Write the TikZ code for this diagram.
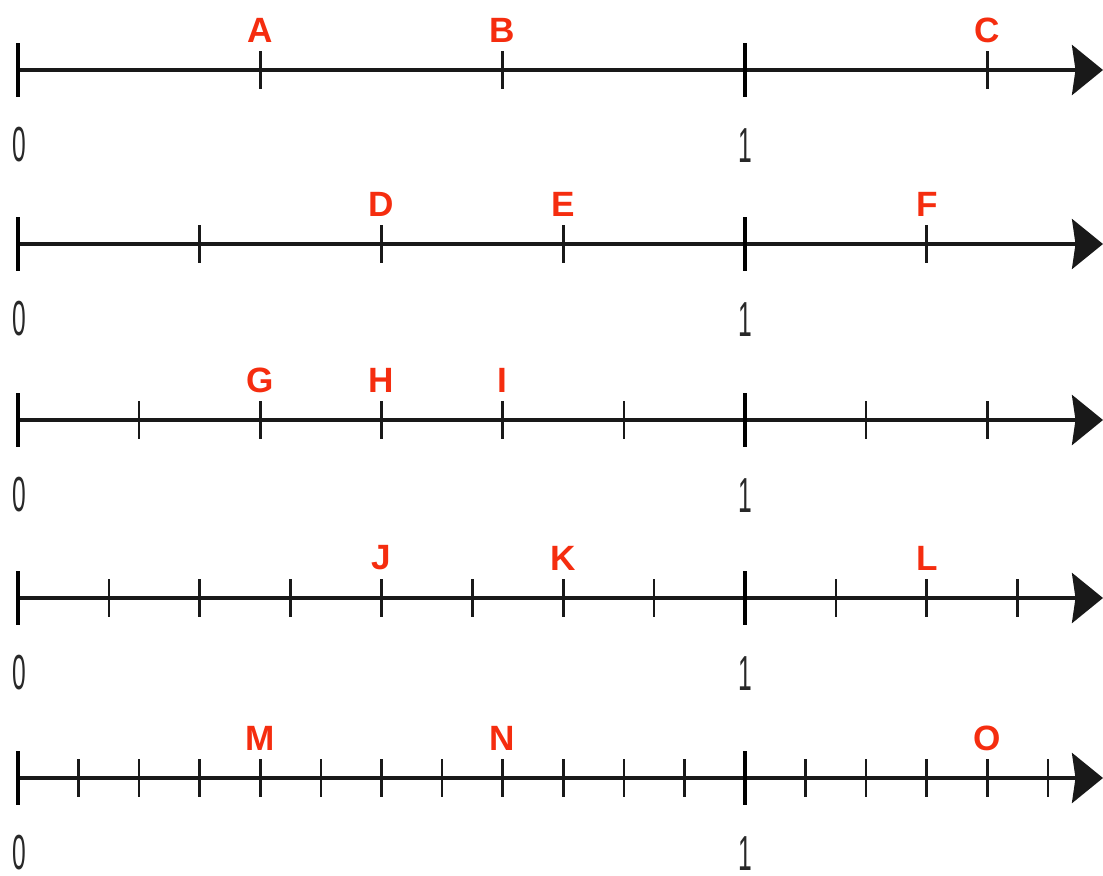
\documentclass[tikz,border=0pt]{standalone}
\usepackage{fontspec}
\setmainfont{Liberation Sans}
\usetikzlibrary{arrows.meta}
\definecolor{labelred}{RGB}{245,45,15}
\definecolor{digitgray}{RGB}{40,40,40}
\newcommand{\narrowdigit}[1]{\scalebox{0.5}[1]{#1}}

\begin{document}
\begin{tikzpicture}[
    x=0.02cm, y=-0.02cm,
    axis/.style={line width=2.3pt, black!90,
                 -{Stealth[length=0.62cm, width=1.0cm, inset=0.07cm]}},
    major/.style={line width=2.4pt, black},
    minor/.style={line width=1.5pt, black!90},
    ptlabel/.style={text=labelred, font=\bfseries\fontsize{20}{20}\selectfont,
                    inner sep=0pt},
    digit/.style={text=digitgray, font=\fontsize{28}{28}\selectfont, inner sep=0pt}
  ]
    \useasboundingbox (0,0) rectangle (1103,876);

    % five number lines: row / height / parts of the unit / last tick / width
    \foreach \row/\yy/\n/\last/\w in {1/70/3/4/2.3pt, 2/244/4/5/1.9pt,
                                      3/420/6/8/2.3pt, 4/598/8/11/2.3pt,
                                      5/778/12/17/2.3pt} {
      \coordinate (zero\row) at (18,\yy);
      \coordinate (one\row)  at (745,\yy);
      \coordinate (tip\row)  at (1103,\yy);
      \draw[axis, line width=\w] (zero\row) -- (tip\row);
      \foreach \k in {1,...,\last}
        \draw[minor] ({18+727*\k/\n},{\yy-19}) -- ({18+727*\k/\n},{\yy+19});
      \draw[major] (zero\row) ++(0,-27) -- ++(0,54);
      \draw[major] (one\row)  ++(0,-27) -- ++(0,54);
      \node[digit] (dzero\row) at (19,{\yy+75})  {\narrowdigit{0}};
      \node[digit] (done\row)  at (745,{\yy+76}) {\narrowdigit{1}};
    }

    % letters above the ticks
    \foreach \name/\yy/\k/\n in {A/70/1/3, B/70/2/3, C/70/4/3,
                                 D/244/2/4, E/244/3/4, F/244/5/4,
                                 G/420/2/6, H/420/3/6, I/420/4/6,
                                 J/598/4/8, K/598/6/8, L/598/10/8,
                                 M/778/4/12, N/778/8/12, O/778/16/12}
      \node[ptlabel] (lab\name) at ({18+727*\k/\n},{\yy-40}) {\name};
  \end{tikzpicture}
\end{document}
